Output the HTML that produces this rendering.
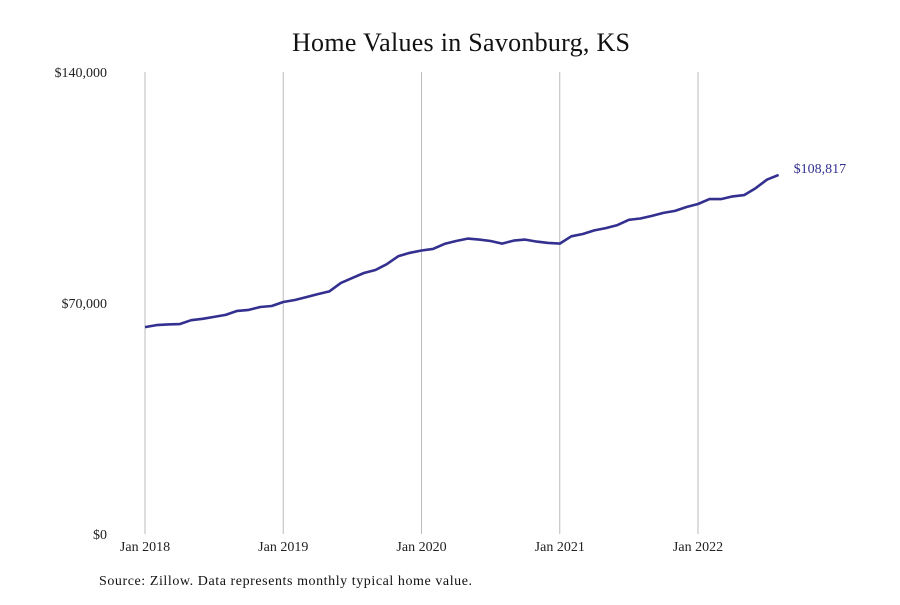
<!DOCTYPE html>
<html><head><meta charset="utf-8"><style>
body{margin:0;background:#fff;}
svg text{font-family:"Liberation Serif",serif;}
</style></head><body>
<svg width="900" height="600" viewBox="0 0 900 600">
<text x="461" y="51" text-anchor="middle" font-size="26" fill="#111" textLength="338">Home Values in Savonburg, KS</text>
<g id="grid"></g><g id="yt"></g><g id="xt"></g>
<path id="line" fill="none" stroke="#33308f" stroke-width="2.6" stroke-linejoin="round"/>
<text id="endlbl" font-size="14" fill="#33308f"></text>
<text x="99" y="585" font-size="14" fill="#111" textLength="373">Source: Zillow. Data represents monthly typical home value.</text>
</svg>
<script>
const values=[62.7,63.3,63.5,63.6,64.8,65.2,65.8,66.4,67.6,67.9,68.8,69.1,
70.3,70.9,71.8,72.7,73.5,76.1,77.6,79.1,80.0,81.8,84.2,85.2,
85.9,86.4,87.9,88.8,89.5,89.2,88.8,88.0,88.9,89.2,88.6,88.2,
88.0,90.2,90.9,92.0,92.7,93.6,95.2,95.6,96.4,97.3,97.9,99.1,
100.0,101.5,101.5,102.3,102.7,104.8,107.4,108.817];
const yTicks=[0,70000,140000];
const yTickLabels=["$0","$70,000","$140,000"];
const xTickMonths=[0,12,24,36,48];
const xTickLabels=["Jan 2018","Jan 2019","Jan 2020","Jan 2021","Jan 2022"];
const lastLabel="$108,817";
const ns="http://www.w3.org/2000/svg";
const x=m=>145+m*(553/48);
const y=v=>534-v*(462/140000);
const mk=(t,a,p)=>{const e=document.createElementNS(ns,t);for(const k in a)e.setAttribute(k,a[k]);document.getElementById(p).appendChild(e);return e;};
xTickMonths.forEach((m,i)=>{
 const l=mk('line',{x1:x(m),x2:x(m),y1:72,y2:534,stroke:'#bbb','stroke-width':1},'grid');
 
 
 const t=mk('text',{x:x(m),y:551,'text-anchor':'middle','font-size':14,fill:'#222'},'xt');
 t.textContent=xTickLabels[i];
 
 
});
yTicks.forEach((v,i)=>{
 const t=mk('text',{x:107,y:y(v)+5,'text-anchor':'end','font-size':14,fill:'#222'},'yt');
 t.textContent=yTickLabels[i];
 
 
});
document.getElementById('line').setAttribute('d',values.map((v,i)=>(i?'L':'M')+x(i).toFixed(1)+','+y(v*1000).toFixed(1)).join(''));
const n=values.length-1;
const el=document.getElementById('endlbl');
el.setAttribute('x',x(n)+15);el.setAttribute('y',y(values[n]*1000)-2);el.textContent=lastLabel;
</script>
</body></html>
